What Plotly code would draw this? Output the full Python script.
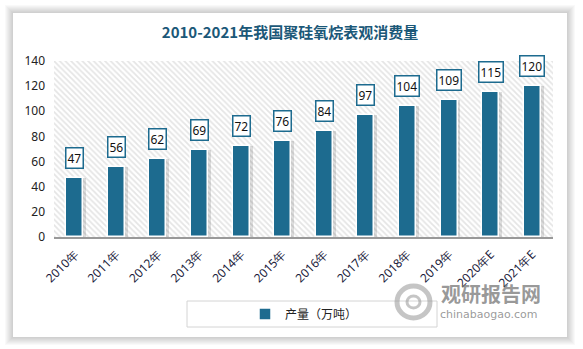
import plotly.graph_objects as go

years = ["2010年", "2011年", "2012年", "2013年", "2014年", "2015年",
         "2016年", "2017年", "2018年", "2019年", "2020年E", "2021年E"]
values = [47, 56, 62, 69, 72, 76, 84, 97, 104, 109, 115, 120]
series_name = "产量（万吨）"
title_text = "2010-2021年我国聚硅氧烷表观消费量"
y_ticks = [0, 20, 40, 60, 80, 100, 120, 140]

W, H = 583, 349
L, R, T, B = 54, 553, 61, 237  # plot area in pixels
pw, ph = R - L, B - T


def px(x):
    return (x - L) / pw


def py(y):
    return (B - y) / ph


n = len(years)
xs = list(range(n))
bar_color = "#1d6b8f"

fig = go.Figure()

# hatched plot background
fig.add_trace(go.Bar(
    x=[(n - 1) / 2], y=[max(y_ticks)], width=[n], base=0,
    marker=dict(color="white", line=dict(width=0),
                pattern=dict(shape="\\", fgcolor="#cccccc", bgcolor="white",
                             size=4, solidity=0.45)),
    showlegend=False, hoverinfo="skip"))

# bar shadows
fig.add_trace(go.Bar(
    x=xs, y=values, width=0.41, offset=-0.205 + 0.07,
    marker=dict(color="rgba(0,0,0,0.13)", line=dict(width=0)),
    showlegend=False, hoverinfo="skip"))

# main bars
fig.add_trace(go.Bar(
    x=xs, y=values, width=0.41, name=series_name,
    marker=dict(color=bar_color, line=dict(color="white", width=1.5)),
    showlegend=True))

for xi, v in zip(xs, values):
    fig.add_annotation(
        x=xi, y=v, xref="x", yref="y", text=str(v), showarrow=False,
        yanchor="bottom", yshift=9,
        font=dict(family="Noto Sans, DejaVu Sans, sans-serif", size=12, color="#111"),
        bgcolor="white", bordercolor=bar_color, borderwidth=1.5, borderpad=1)

shapes = []
# card shadow
cx0, cy0, cx1, cy1 = 13, 13, 567, 337
for i in range(8, 0, -1):
    shapes.append(dict(type="rect", xref="paper", yref="paper", layer="below",
                       x0=px(cx0 - i), x1=px(cx1 + i), y0=py(cy1 + i), y1=py(cy0 - i),
                       fillcolor="rgba(0,0,0,0.025)", line=dict(width=0)))
shapes.append(dict(type="rect", xref="paper", yref="paper", layer="below",
                   x0=px(cx0), x1=px(cx1), y0=py(cy1), y1=py(cy0),
                   fillcolor="white", line=dict(width=0)))
# legend box
shapes.append(dict(type="rect", xref="paper", yref="paper", layer="below",
                   x0=px(187), x1=px(437), y0=py(327), y1=py(301),
                   fillcolor="white", line=dict(color="#d4d4d4", width=1)))
# watermark logo
shapes.append(dict(type="circle", xref="paper", yref="paper", layer="above",
                   x0=px(397), x1=px(430), y0=py(318), y1=py(286),
                   fillcolor="rgba(0,0,0,0)", line=dict(color="rgba(150,150,150,0.55)", width=5)))
shapes.append(dict(type="circle", xref="paper", yref="paper", layer="above",
                   x0=px(407), x1=px(420), y0=py(308), y1=py(296),
                   fillcolor="rgba(0,0,0,0)", line=dict(color="rgba(150,150,150,0.55)", width=3)))

annotations_extra = [
    dict(text="<b>观研报告网</b>", xref="paper", yref="paper", x=px(491), y=py(293),
         showarrow=False, xanchor="center", yanchor="middle",
         font=dict(family="Noto Sans CJK SC, sans-serif", size=20, color="rgba(120,120,120,0.75)")),
    dict(text="chinabaogao.com", xref="paper", yref="paper", x=px(489), y=py(314),
         showarrow=False, xanchor="center", yanchor="middle",
         font=dict(family="DejaVu Sans, sans-serif", size=11, color="rgba(120,120,120,0.75)")),
]
for a in annotations_extra:
    fig.add_annotation(**a)

fig.update_layout(
    width=W, height=H,
    margin=dict(l=L, r=W - R, t=T, b=H - B, pad=0),
    paper_bgcolor="white", plot_bgcolor="rgba(0,0,0,0)",
    barmode="overlay", bargap=0,
    shapes=shapes,
    title=dict(text="<b>" + title_text + "</b>", x=(cx0 + cx1) / 2 / W, xanchor="center",
               y=1 - 33 / H, yanchor="middle",
               font=dict(family="Noto Sans CJK SC, sans-serif", size=15, color="#1b5878")),
    xaxis=dict(range=[-0.5, n - 0.5], tickvals=xs, ticktext=years, tickangle=-45,
               showgrid=False, zeroline=False, showline=True, linecolor="#999", linewidth=1.5,
               ticks="", ticklabelstandoff=4,
               tickfont=dict(family="Noto Sans, DejaVu Sans, sans-serif", size=12, color="#1a1a3a")),
    yaxis=dict(range=[0, 140], tickvals=y_ticks, showgrid=False, zeroline=False,
               showline=False, ticks="", ticklabelstandoff=8,
               tickfont=dict(family="Noto Sans, DejaVu Sans, sans-serif", size=12, color="#222")),
    legend=dict(orientation="h", x=px(304), y=py(314), xanchor="center", yanchor="middle",
                bgcolor="rgba(0,0,0,0)", borderwidth=0,
                font=dict(family="Noto Sans CJK SC, sans-serif", size=12, color="#222")),
    hovermode=False,
)

fig.write_html("out.html")
